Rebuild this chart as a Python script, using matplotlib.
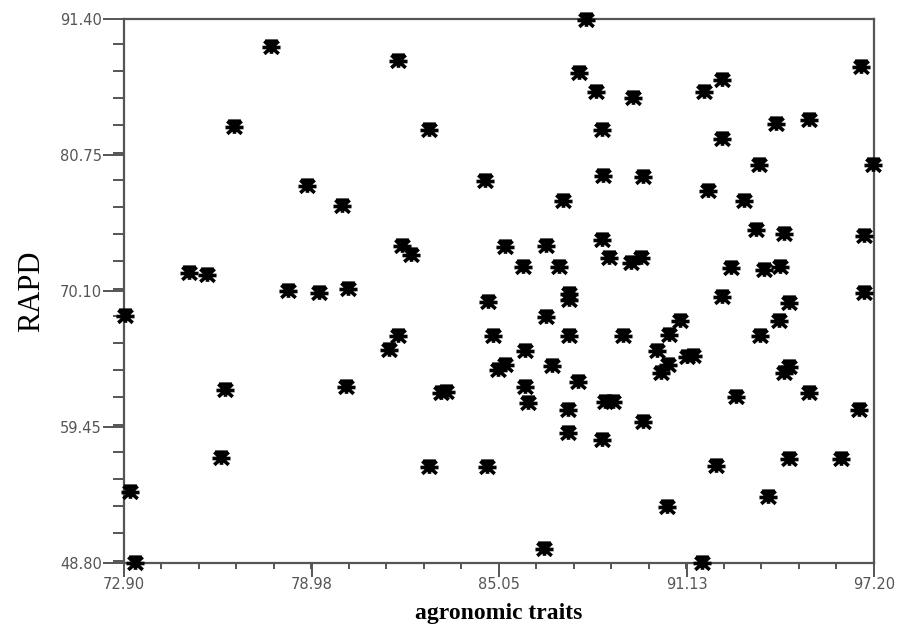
import matplotlib.pyplot as plt
from matplotlib.ticker import MultipleLocator, FixedLocator
from matplotlib.path import Path
import numpy as np

# agronomic traits (x) vs RAPD (y)
agro = [72.92, 73.10, 73.27, 75.00, 75.60, 76.16, 76.05, 76.48, 77.67, 78.21,
        78.84, 79.23, 79.96, 80.15, 80.10, 81.48, 81.77, 81.77, 81.90, 82.21,
        82.77, 82.78, 83.18, 83.34, 84.61, 84.69, 84.67, 84.85, 85.01, 85.23,
        85.25, 85.82, 85.90, 85.90, 85.98, 86.50, 86.56, 86.56, 86.77, 86.98,
        87.14, 87.28, 87.28, 87.33, 87.33, 87.33, 87.60, 87.88, 87.63, 88.20,
        88.38, 88.41, 88.39, 88.63, 88.39, 88.47, 88.76, 89.06, 89.39, 89.33,
        89.66, 89.71, 89.71, 90.18, 90.31, 90.52, 90.50, 90.57, 90.90, 91.13,
        91.35, 91.69, 91.63, 91.82, 92.09, 92.28, 92.28, 92.27, 92.57, 92.74,
        93.00, 93.38, 93.49, 93.51, 93.65, 93.78, 94.03, 94.12, 94.14, 94.30,
        94.30, 94.46, 94.44, 94.44, 95.09, 95.09, 96.14, 96.73, 96.79, 96.89,
        96.89, 97.16]
rapd = [68.14, 54.38, 48.80, 71.53, 71.35, 62.35, 57.00, 82.97, 89.23, 70.12,
        78.32, 69.92, 76.76, 70.26, 62.56, 65.48, 88.13, 66.58, 73.62, 72.92,
        82.71, 56.34, 62.09, 62.21, 78.74, 69.26, 56.34, 66.58, 63.91, 64.31,
        73.52, 72.00, 65.42, 62.56, 61.35, 49.87, 73.62, 68.04, 64.23, 72.00,
        77.17, 60.78, 59.00, 69.87, 69.40, 66.58, 63.00, 91.32, 87.19, 85.68,
        82.71, 79.13, 74.09, 72.66, 58.43, 61.41, 61.41, 66.58, 85.24, 72.27,
        72.66, 79.05, 59.87, 65.42, 63.66, 64.31, 53.16, 66.65, 67.77, 64.93,
        65.01, 85.71, 48.80, 77.95, 56.40, 69.61, 86.62, 82.00, 71.92, 61.78,
        77.17, 74.88, 79.97, 66.58, 71.74, 53.99, 83.18, 67.77, 71.96, 74.56,
        63.66, 64.13, 69.14, 56.92, 83.49, 62.09, 56.92, 60.78, 87.66, 74.41,
        69.92, 79.97]

xticks = [72.90, 78.98, 85.05, 91.13, 97.20]
yticks = [48.80, 59.45, 70.10, 80.75, 91.40]

# squat "米"-like star marker, wider than tall
h = 0.7
star = Path([(-1, 0), (1, 0), (0, -h), (0, h), (-0.8, -h), (0.8, h),
             (-0.8, h), (0.8, -h), (-0.7, h), (0.7, h)],
            [Path.MOVETO, Path.LINETO] * 5)

fig = plt.figure(figsize=(8.97, 6.28), dpi=100)
ax = fig.add_axes([0.1382, 0.1035, 0.8361, 0.8662])

ax.plot(agro, rapd, linestyle='none', marker=star, markersize=13,
        markeredgewidth=2.6, color='black', clip_on=False, zorder=3)

ax.set_xlim(72.90, 97.20)
ax.set_ylim(48.80, 91.40)
ax.xaxis.set_major_locator(FixedLocator(xticks))
ax.yaxis.set_major_locator(FixedLocator(yticks))
ax.set_xticklabels([f'{v:.2f}' for v in xticks])
ax.set_yticklabels([f'{v:.2f}' for v in yticks])
ax.xaxis.set_minor_locator(MultipleLocator((97.20 - 72.90) / 20))
ax.yaxis.set_minor_locator(MultipleLocator((91.40 - 48.80) / 20))

for s in ax.spines.values():
    s.set_color('#555555')
    s.set_linewidth(1.6)

ax.tick_params(which='major', axis='y', length=15, width=1.4, color='#555555',
               labelsize=10.5, labelcolor='#555555', pad=1)
ax.tick_params(which='minor', axis='y', length=8, width=1.4, color='#555555')
ax.tick_params(which='major', axis='x', length=10, width=1.4, color='#555555',
               labelsize=10.5, labelcolor='#555555', pad=0)
ax.tick_params(which='minor', axis='x', length=4, width=1.4, color='#555555')

ax.set_xlabel('agronomic traits', family='Liberation Serif', fontweight='bold',
              fontsize=17, labelpad=8)
ax.set_ylabel('RAPD', family='Liberation Serif', fontsize=22, labelpad=10)

plt.savefig('out.png', dpi=100)
